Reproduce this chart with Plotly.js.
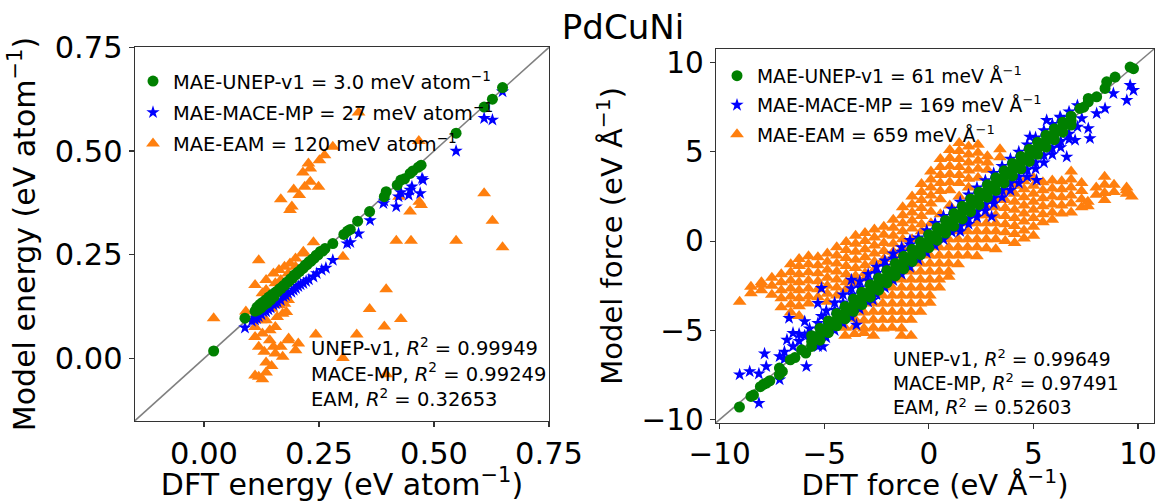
<!DOCTYPE html>
<html>
<head>
<meta charset="utf-8">
<script src="https://cdn.plot.ly/plotly-3.0.1.min.js"></script>
<style>html,body{margin:0;padding:0;background:#fff;}#chart{width:1161px;height:502px;}</style>
</head>
<body>
<div id="chart"></div>
<script>
// ---------- Left panel: energy (eV atom^-1) ----------
const uEx = [0.021,0.089,0.111,0.115,0.118,0.121,0.124,0.127,0.131,0.134,0.138,0.141,0.145,0.148,0.152,0.156,0.160,0.164,0.168,0.172,0.176,0.180,0.184,0.188,0.192,0.196,0.200,0.204,0.208,0.212,0.216,0.220,0.224,0.228,0.232,0.236,0.240,0.244,0.248,0.253,0.258,0.263,0.280,0.304,0.312,0.318,0.334,0.360,0.392,0.396,0.420,0.428,0.436,0.448,0.454,0.466,0.472,0.548,0.609,0.627,0.649];
const uEy = [0.018,0.097,0.114,0.123,0.117,0.130,0.122,0.135,0.129,0.141,0.134,0.148,0.141,0.154,0.149,0.160,0.161,0.168,0.169,0.175,0.177,0.184,0.185,0.192,0.193,0.201,0.202,0.208,0.210,0.216,0.218,0.225,0.226,0.233,0.234,0.240,0.242,0.249,0.250,0.258,0.259,0.265,0.277,0.299,0.307,0.311,0.331,0.354,0.390,0.402,0.418,0.430,0.433,0.446,0.452,0.461,0.466,0.543,0.606,0.625,0.653];

const mEx = [0.089,0.104,0.111,0.115,0.119,0.125,0.129,0.135,0.140,0.145,0.151,0.156,0.160,0.167,0.173,0.178,0.183,0.190,0.195,0.200,0.205,0.210,0.216,0.222,0.228,0.238,0.245,0.256,0.265,0.280,0.311,0.318,0.336,0.361,0.390,0.392,0.418,0.423,0.428,0.445,0.448,0.452,0.470,0.474,0.476,0.548,0.609,0.627,0.649];
const mEy = [0.074,0.090,0.093,0.097,0.101,0.106,0.113,0.113,0.118,0.122,0.129,0.132,0.136,0.140,0.149,0.152,0.157,0.160,0.165,0.169,0.174,0.178,0.181,0.186,0.190,0.197,0.205,0.213,0.218,0.237,0.277,0.280,0.301,0.333,0.374,0.380,0.366,0.390,0.400,0.394,0.406,0.414,0.398,0.434,0.430,0.500,0.579,0.575,0.643];

const eEx = [0.021,0.091,0.111,0.119,0.167,0.187,0.191,0.195,0.207,0.215,0.219,0.227,0.231,0.231,0.249,0.251,0.262,0.280,0.336,0.467,0.609,0.627,0.649,0.548,0.418,0.450,0.448,0.472,0.468,0.424,0.396,0.360,0.428,0.392,0.332,0.243,0.302,0.396,0.302,0.238,0.216,0.205,0.184,0.119,0.111,0.127,0.135,0.147,0.135,0.155,0.151,0.171,0.167,0.183,0.199,0.119,0.111,0.127,0.143,0.155,0.135,0.159,0.171,0.179,0.147,0.163,0.175,0.183,0.111,0.123,0.143,0.131,0.135,0.151,0.163,0.175,0.187,0.199,0.215,0.135,0.155,0.167,0.127,0.199,0.183];
const eEy = [0.097,0.113,0.177,0.237,0.384,0.358,0.366,0.407,0.394,0.448,0.414,0.470,0.458,0.426,0.414,0.478,0.490,0.510,0.593,0.524,0.398,0.332,0.268,0.284,0.284,0.284,0.354,0.370,0.378,0.390,0.167,0.119,0.095,0.077,0.058,0.058,0.001,-0.038,0.245,0.280,0.257,0.036,0.048,-0.044,-0.041,-0.050,-0.034,-0.018,-0.010,0.012,0.028,0.004,0.028,0.044,0.020,0.028,0.052,0.060,0.068,0.076,0.092,0.100,0.108,0.112,0.120,0.128,0.132,0.141,0.076,0.092,0.044,0.016,0.189,0.205,0.213,0.221,0.229,0.241,0.253,0.165,0.181,0.189,0.157,0.221,0.205];

// ---------- Right panel: force (eV Å^-1), stored as columns: x value -> list of y values ----------
const uFcx = [-9.05,-8.5,-8.38,-8.05,-7.9,-7.76,-7.6,-7.14,-7.0,-6.62,-6.4,-6.08,-5.88,-5.6,-5.2,-4.8,-4.4,-4.0,-3.6,-3.2,-2.8,-2.4,-2.0,-1.6,-1.2,-0.8,-0.4,0.0,0.4,0.8,1.2,1.6,2.0,2.4,2.8,3.2,3.6,4.0,4.4,4.8,5.2,5.6,6.0,6.4,6.8,7.22,7.4,7.62,8.02,8.42,8.5,8.9,9.62,9.78];
const uFcy = [[-9.29],[-8.7],[-8.62],[-8.15],[-8.02],[-7.95],[-7.82],[-7.48,-7.11],[-7.3],[-6.65],[-6.52],[-6.09],[-6.27],
 [-5.3,-5.62,-5.9],[-4.88,-5.21,-5.55],[-4.47,-4.8,-5.12],[-4.05,-4.42,-4.74],[-3.66,-4.0,-4.35],[-3.24,-3.6,-3.93],[-2.86,-3.18,-3.55],[-2.44,-2.8,-3.14],[-2.07,-2.38,-2.75],[-1.64,-2.0,-2.34],[-1.25,-1.6,-1.95],[-0.85,-1.18,-1.55],[-0.46,-0.8,-1.14],[-0.04,-0.4,-0.75],[0.36,0.0,-0.36],[0.75,0.42,0.05],[1.16,0.8,0.45],[1.55,1.2,0.84],[1.95,1.61,1.24],[2.36,2.0,1.65],[2.74,2.4,2.04],[3.15,2.8,2.46],[3.55,3.2,2.84],[3.94,3.6,3.26],[4.35,4.0,3.65],[4.74,4.41,4.05],[5.15,4.8,4.46],[5.54,5.2,4.86],[5.93,5.6,5.27],[6.3,6.0,5.68],[6.66,6.4,6.1],[7.0,6.75,6.5],
 [7.43],[7.5],[7.99,7.8],[8.08],[8.55],[8.92],[9.19],[9.75],[9.66]];

const mFcx = [-9.04,-8.56,-8.12,-7.85,-7.77,-7.13,-6.9,-6.68,-6.78,-6.49,-6.2,-5.93,-5.85,-5.7,-5.3,-5.13,-5.06,-4.9,-4.5,-4.1,-3.7,-3.46,-3.3,-2.9,-2.67,-2.5,-2.1,-1.7,-1.3,-0.9,-0.5,-0.1,0.3,0.7,1.1,1.5,1.9,2.3,2.7,3.0,3.1,3.5,3.9,4.3,4.67,4.7,4.83,5.1,5.15,5.5,5.63,5.9,6.19,6.27,6.3,6.59,6.7,6.99,7.1,7.31,7.62,7.7,8.02,8.42,8.82,9.46,9.62,9.78];
const mFcy = [[-7.48],[-7.30],[-7.43,-9.07],[-6.31],[-7.02],[-6.46,-7.76],[-6.2,-6.6],[-4.31],[-5.53],[-5.15,-5.9],[-5.6,-5.2],[-4.5,-5.3],[-7.02],[-4.9,-5.2],[-3.48,-4.6,-5.9],[-2.64,-4.2],[-5.9],[-4.4,-3.9,-5.4],[-3.85,-3.45,-5.0],[-3.45,-3.0,-4.6],[-2.17,-3.0,-2.65,-4.25],[-4.69],[-2.6,-2.25,-3.8],[-2.2,-1.85,-3.4],[-3.29],[-1.8,-1.45,-3.0],[-1.4,-1.1,-2.6],[-1.0,-0.7,-2.2],[-0.6,-0.35,-1.85],[-0.2,0.05,-1.45],[0.2,-1.05],[0.6,-0.65],[1.0,-0.25],[1.4,0.1],[1.8,0.5],[2.2,0.85,0.55],[2.6,1.25,0.95],[3.0,1.65,1.35],[3.4,2.05,1.7],[1.37],[3.8,2.4,2.1],[4.2,2.85,2.45],[4.6,3.25,2.85],[5.0,3.6,3.25],[3.98],[5.4,4.0,3.6],[5.84],[5.8,4.4,4.05],[3.42],[6.2,4.8,4.4],[6.77],[6.55,5.2,4.85],[5.47],[6.96],[6.9,5.6,5.25],[4.72],[7.25,6.0,5.7],[5.66],[7.6,6.4],[6.87],[6.31],[5.75],[7.15],[7.43],[8.27],[7.89],[8.73],[8.45]];

const eFcx = [-9.04,-8.5,-8.0,-7.5,-7.05,-6.6,-6.2,-5.75,-5.3,-4.85,-4.4,-3.95,-3.5,-3.05,-2.6,-2.15,-1.7,-1.25,-0.8,-0.35,0.1,0.55,1.0,1.45,1.9,2.35,2.8,3.4,
 -4.0,-3.55,-3.1,-2.65,-2.2,-1.75,-1.3,-0.85,-0.4,0.05,0.5,0.95,1.4,1.85,2.3,2.75,3.2,3.65,4.1,4.55,5.0,5.45,5.9,6.35,6.8,7.3,7.6,8.0,8.4,8.85,9.45,9.7];
const eFcy = [[-3.39],[-2.55,-2.92],[-2.3,-2.45,-2.75],[-2.05,-2.5,-3.0],[-1.85,-2.3,-2.75,-3.2,-3.7],[-1.3,-1.75,-2.2,-2.65,-3.1,-3.55,-4.0],[-1.0,-1.4,-1.85,-2.3,-2.75,-3.2,-3.65,-4.2],[-0.85,-1.3,-1.75,-2.2,-2.65,-3.1,-3.5],[-0.9,-1.35,-1.8,-2.25,-2.7,-3.15],[-0.7,-1.15,-1.6,-2.05,-2.5,-2.95,-3.4],[-0.35,-0.8,-1.25,-1.7,-2.15,-2.6,-3.05],[-0.05,-0.5,-0.95,-1.4,-1.85,-2.3,-2.7],[0.3,-0.15,-0.6,-1.05,-1.5,-1.95,-2.35],[0.45,0.0,-0.45,-0.9,-1.35,-1.8,-2.1],[0.65,0.2,-0.25,-0.7,-1.15,-1.6],[0.8,0.35,-0.1,-0.55,-1.0,-1.25],[1.2,0.75,0.3,-0.15,-0.6,-0.85],[1.9,1.45,1.0,0.55,0.1,-0.4],[2.5,2.05,1.6,1.15,0.7,0.1],[3.2,2.75,2.3,1.85,1.4,0.95,0.55],[3.9,3.45,3.0,2.55,2.1,1.65,1.0],[4.6,4.15,3.7,3.25,2.8,2.35,1.5],[5.1,4.65,4.2,3.75,3.3,2.85,2.0],[5.5,5.05,4.6,4.15,3.7,3.25,2.5],[5.3,4.85,4.4,3.95,3.5,3.0],[5.4,4.95,4.5,4.05,3.55],[4.75,4.4,4.0],[5.15,4.7],
 [-4.85,-5.3],[-4.35,-4.8,-5.2],[-4.0,-4.45,-4.9,-5.15],[-3.5,-3.95,-4.4,-4.85,-5.3],[-3.05,-3.5,-3.95,-4.4,-4.9],[-2.6,-3.05,-3.5,-3.95,-4.4,-4.85],[-2.15,-2.6,-3.05,-3.5,-3.95,-4.4,-4.9,-5.3],[-1.7,-2.15,-2.6,-3.05,-3.5,-3.95,-4.4,-5.3],[-1.25,-1.7,-2.15,-2.6,-3.05,-3.5,-3.95],[-0.8,-1.25,-1.7,-2.15,-2.6,-3.05,-3.45],[-0.35,-0.8,-1.25,-1.7,-2.15,-2.6],[0.1,-0.35,-0.8,-1.25,-1.7,-2.0],[0.55,0.1,-0.35,-0.8,-1.3],[1.0,0.55,0.1,-0.35,-0.8],[1.45,1.0,0.55,0.1,-0.35,-0.85],[1.9,1.45,1.0,0.55,0.1,-0.4],[2.35,1.9,1.45,1.0,0.55,0.1,-0.45],[2.75,2.3,1.85,1.4,0.95,0.5,0.0],[3.1,2.65,2.2,1.75,1.3,0.85,0.4,-0.1],[3.35,2.9,2.45,2.0,1.55,1.1,0.6,0.15],[3.55,3.1,2.65,2.2,1.75,1.3,0.8,0.3],[3.3,2.85,2.4,1.95,1.5,1.05],[3.4,2.95,2.5,2.05,1.6,1.2],[3.35,2.9,2.45,2.0,1.55],[3.9,3.45,3.0,2.55,2.1,1.6],[3.25,2.8,2.35,1.9],[2.2,1.95],[3.0,2.6],[3.6,3.15,2.7,2.3],[3.15,2.75],[3.0,2.85,2.65],[2.5]];

// ---------- Text ----------
const titleText = 'PdCuNi';
const legE = ['MAE-UNEP-v1 = 3.0 meV atom<sup>−1</sup>','MAE-MACE-MP = 27 meV atom<sup>−1</sup>','MAE-EAM = 120 meV atom<sup>−1</sup>'];
const legF = ['MAE-UNEP-v1 = 61 meV Å<sup>−1</sup>','MAE-MACE-MP = 169 meV Å<sup>−1</sup>','MAE-EAM = 659 meV Å<sup>−1</sup>'];
const r2E = ['UNEP-v1, <i>R</i><sup>2</sup> = 0.99949','MACE-MP, <i>R</i><sup>2</sup> = 0.99249','EAM, <i>R</i><sup>2</sup> = 0.32653'];
const r2F = ['UNEP-v1, <i>R</i><sup>2</sup> = 0.99649','MACE-MP, <i>R</i><sup>2</sup> = 0.97491','EAM, <i>R</i><sup>2</sup> = 0.52603'];

function flat(cx, cy){ const X=[],Y=[]; cx.forEach((x,i)=>cy[i].forEach(y=>{X.push(x);Y.push(y);})); return [X,Y]; }
const [uFx,uFy] = flat(uFcx,uFcy);
const [mFx,mFy] = flat(mFcx,mFcy);
const [eFx,eFy] = flat(eFcx,eFcy);

const GREEN='#008000', BLUE='#0000ff', ORANGE='#ff7f0e';
function sc(x,y,name,color,symbol,size,xa,ya,leg,rank){
  return {type:'scatter',mode:'markers',x:x,y:y,name:name,xaxis:xa,yaxis:ya,legend:leg,legendgroup:leg+rank,legendrank:rank,
    marker:{color:color,symbol:symbol,size:size,line:{width:0}},hoverinfo:'skip'};
}
const traces = [
  sc(eEx,eEy,legE[2],ORANGE,'triangle-up',12,'x','y','legend',3),
  sc(mEx,mEy,legE[1],BLUE,'star',10,'x','y','legend',2),
  sc(uEx,uEy,legE[0],GREEN,'circle',11,'x','y','legend',1),
  sc(eFx,eFy,legF[2],ORANGE,'triangle-up',12,'x2','y2','legend2',3),
  sc(mFx,mFy,legF[1],BLUE,'star',10,'x2','y2','legend2',2),
  sc(uFx,uFy,legF[0],GREEN,'circle',11,'x2','y2','legend2',1),
];

const axBase = {showgrid:false,zeroline:false,showline:true,mirror:true,linecolor:'#333',linewidth:1.3,
  ticks:'outside',ticklen:5,tickwidth:1.2,tickcolor:'#333'};
const layout = {
  width:1161,height:502,margin:{l:0,r:0,t:0,b:0},paper_bgcolor:'#fff',plot_bgcolor:'#fff',
  font:{family:'DejaVu Sans',color:'#000'},showlegend:true,
  title:{text:titleText,x:623/1161,xanchor:'center',xref:'paper',y:(502-27)/502,yanchor:'middle',font:{size:34,family:'DejaVu Sans',color:'#000'}},
  xaxis:Object.assign({},axBase,{domain:[135/1161,549/1161],range:[-0.15,0.75],anchor:'y',tick0:0,dtick:0.25,tickformat:'.2f',tickfont:{size:30.5},
    title:{text:'DFT energy (eV atom<sup>−1</sup>)',font:{size:30}}}),
  yaxis:Object.assign({},axBase,{domain:[(502-420.7)/502,(502-47.3)/502],range:[-0.15,0.75],anchor:'x',tick0:0,dtick:0.25,tickformat:'.2f',tickfont:{size:30.5},
    title:{text:'Model energy (eV atom<sup>−1</sup>)',font:{size:30},standoff:10}}),
  xaxis2:Object.assign({},axBase,{domain:[716/1161,1154/1161],range:[-10.17,10.76],anchor:'y2',tick0:0,dtick:5,tickfont:{size:29.5},
    title:{text:'DFT force (eV Å<sup>−1</sup>)',font:{size:29}}}),
  yaxis2:Object.assign({},axBase,{domain:[(502-422.7)/502,(502-49)/502],range:[-10.17,10.76],anchor:'x2',tick0:0,dtick:5,tickfont:{size:29.5},
    title:{text:'Model force (eV Å<sup>−1</sup>)',font:{size:29},standoff:10}}),
  legend:{x:133/1161,y:(502-62)/502,xanchor:'left',yanchor:'top',bgcolor:'rgba(0,0,0,0)',borderwidth:0,
    traceorder:'grouped',tracegroupgap:3,font:{size:19.4}},
  legend2:{x:717/1161,y:(502-57)/502,xanchor:'left',yanchor:'top',bgcolor:'rgba(0,0,0,0)',borderwidth:0,
    traceorder:'grouped',tracegroupgap:2,font:{size:18.7}},
  shapes:[
    {type:'line',xref:'x domain',yref:'y domain',x0:0,y0:0,x1:1,y1:1,line:{color:'#808080',width:1.6},layer:'below'},
    {type:'line',xref:'x2 domain',yref:'y2 domain',x0:0,y0:0,x1:1,y1:1,line:{color:'#808080',width:1.6},layer:'below'}
  ],
  annotations:[
    {text:r2E.join('<br>'),xref:'paper',yref:'paper',x:309/1161,y:(502-372.5)/502,xanchor:'left',yanchor:'middle',align:'left',showarrow:false,font:{size:19.5}},
    {text:r2F.join('<br>'),xref:'paper',yref:'paper',x:891/1161,y:(502-381.5)/502,xanchor:'left',yanchor:'middle',align:'left',showarrow:false,font:{size:18.7}}
  ]
};
Plotly.newPlot('chart',traces,layout,{staticPlot:true,displayModeBar:false});
</script>
</body>
</html>
